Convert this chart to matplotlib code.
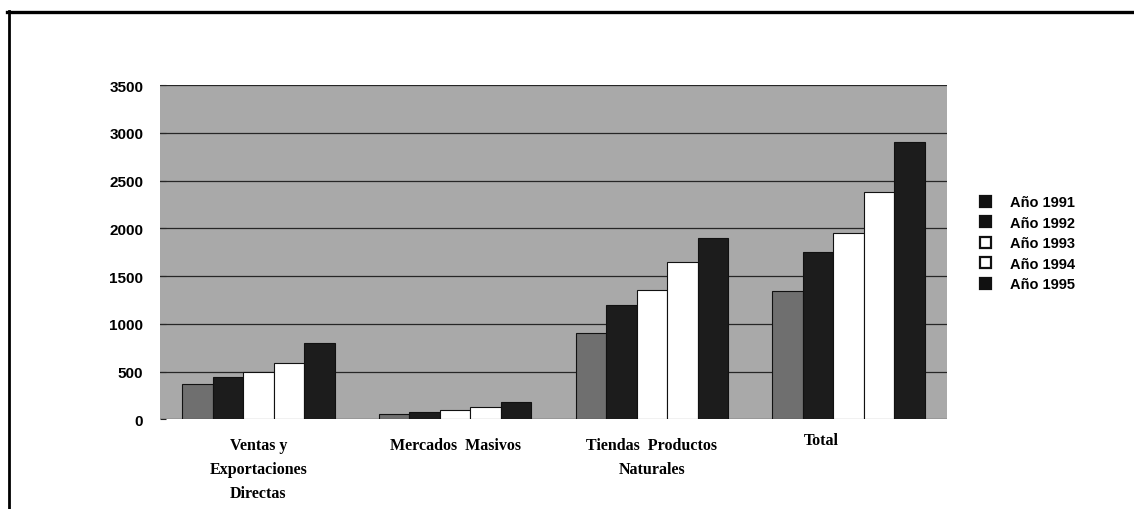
"""
Gráfico de barras agrupadas: ventas por canal, años 1991-1995.
"""

import matplotlib
matplotlib.use("Agg")
import matplotlib.pyplot as plt
import numpy as np
from matplotlib.lines import Line2D
from matplotlib.patches import Patch
import matplotlib.transforms as mtransforms

# -------------------------------------------------------------------------
# Datos
# -------------------------------------------------------------------------
categorias = ["Ventas y\nExportaciones\nDirectas", "Mercados  Masivos",
              "Tiendas  Productos\nNaturales", "Total"]
anios = ["Año 1991", "Año 1992", "Año 1993", "Año 1994", "Año 1995"]

v1991 = [370, 50, 900, 1340]
v1992 = [440, 80, 1200, 1750]
v1993 = [490, 100, 1350, 1950]
v1994 = [590, 130, 1650, 2380]
v1995 = [800, 180, 1900, 2900]

yticks = [0, 500, 1000, 1500, 2000, 2500, 3000, 3500]

colores = ["#6f6f6f", "#1c1c1c", "#ffffff", "#ffffff", "#1c1c1c"]
colores_leyenda = ["#111111", "#111111", "#ffffff", "#ffffff", "#111111"]


def main():
    fig = plt.figure(figsize=(11.34, 5.10), dpi=100)
    fig.patch.set_facecolor("white")
    ax = fig.add_axes([0.141, 0.176, 0.694, 0.655])
    ax.set_facecolor("#a9a9a9")

    series = [v1991, v1992, v1993, v1994, v1995]
    x = np.arange(len(categorias))
    ancho = 0.155
    for i, (valores, color) in enumerate(zip(series, colores)):
        ax.bar(x + (i - 2) * ancho, valores, width=ancho, color=color,
               edgecolor="#111111", linewidth=0.8, zorder=3)

    ax.set_xlim(-0.5, len(categorias) - 0.5)
    ax.set_ylim(0, 3500)
    ax.set_yticks(yticks)
    ax.set_yticklabels([str(t) for t in yticks], fontsize=11,
                       fontweight="bold", family="Liberation Sans")
    ax.yaxis.grid(True, color="#262626", linewidth=0.9, zorder=1)
    ax.tick_params(axis="y", direction="in", length=4, color="#262626",
                   pad=12)

    ax.set_xticks(x)
    ax.set_xticklabels(categorias, fontsize=11.5, fontweight="bold",
                       family="Liberation Serif", linespacing=1.65,
                       va="top")
    ax.tick_params(axis="x", length=0, pad=13)
    # "Total" está corrido a la izquierda en el original
    desplazar = mtransforms.ScaledTranslation(-0.27, 0.05,
                                              fig.dpi_scale_trans)
    ultima = ax.get_xticklabels()[-1]
    ultima.set_transform(ultima.get_transform() + desplazar)

    for s in ax.spines.values():
        s.set_visible(False)

    # Leyenda
    handles = [Patch(facecolor=c, edgecolor="#111111", linewidth=1.6)
               for c in colores_leyenda]
    ax.legend(handles, anios, loc="upper left", bbox_to_anchor=(1.025, 0.71),
              frameon=False, handlelength=0.8, handleheight=0.8,
              handletextpad=1.3, labelspacing=0.45,
              prop={"family": "Liberation Sans", "weight": "bold",
                    "size": 10.5})

    # Marco exterior (línea superior e izquierda)
    fig.add_artist(Line2D([0.006, 1.0], [0.975, 0.975],
                          transform=fig.transFigure, color="black",
                          linewidth=2.4))
    fig.add_artist(Line2D([0.008, 0.008], [0.0, 0.977],
                          transform=fig.transFigure, color="black",
                          linewidth=2.0))

    fig.savefig("out.png", dpi=100)
    plt.close(fig)


if __name__ == "__main__":
    main()
